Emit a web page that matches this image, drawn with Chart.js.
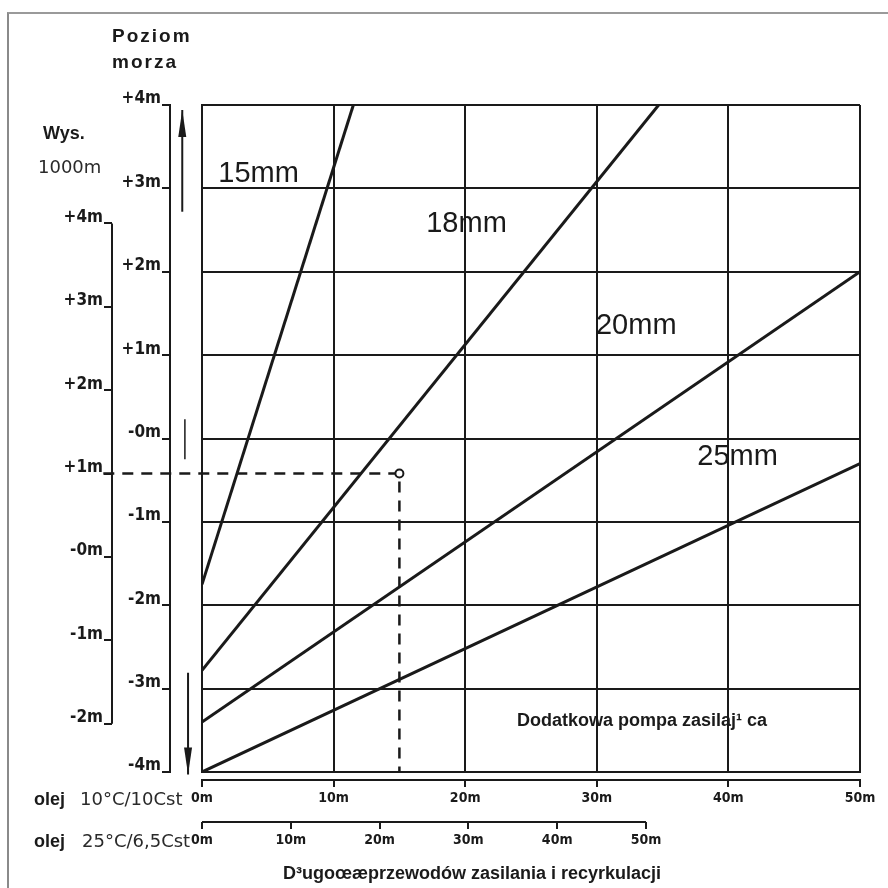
<!DOCTYPE html>
<html>
<head>
<meta charset="utf-8">
<script src="https://cdn.jsdelivr.net/npm/chart.js@4.4.0/dist/chart.umd.min.js"></script>
<style>
html, body { margin: 0; padding: 0; background: #fff; }
#wrap { position: relative; width: 888px; height: 888px; overflow: hidden; }
#c { position: absolute; left: 0; top: 0; }
#frame { position: absolute; left: 7px; top: 12px; width: 900px; height: 900px;
  border-left: 2px solid #8a8a8a; border-top: 2px solid #9a9a9a; }
.t { position: absolute; white-space: nowrap; line-height: 1; color: #1a1a1a; }
.b { font-family: "Liberation Sans", Arial, sans-serif; font-weight: bold; font-size: 18px; }
.n { font-family: "DejaVu Sans", sans-serif; font-size: 18px; color: #2a2a2a; }
</style>
</head>
<body>
<div id="wrap">
  <div id="frame"></div>
  <canvas id="c" width="888" height="888"></canvas>
  <div class="t b" style="left:112px;top:23px;line-height:26px;letter-spacing:2px;font-size:19px">Poziom<br>morza</div>
  <div class="t b" style="left:43px;top:124px">Wys.</div>
  <div class="t n" style="left:38px;top:158px;font-size:18px">1000m</div>
  <div class="t b" style="left:34px;top:790px">olej</div>
  <div class="t n" style="left:80px;top:790px">10°C/10Cst</div>
  <div class="t b" style="left:34px;top:832px">olej</div>
  <div class="t n" style="left:82px;top:832px">25°C/6,5Cst</div>
  <div class="t b" style="left:517px;top:711px">Dodatkowa pompa zasilaj¹ ca</div>
  <div class="t b" style="left:283px;top:864px">D³ugoœæprzewodów zasilania i recyrkulacji</div>
</div>
<script>
// Nomogram: pipe diameter vs. supply/return line length and suction height.

const ink = '#1a1a1a';

// pipe lines: start at 0 m length, end where they leave the grid
const pipeNames  = ['15mm', '18mm', '20mm', '25mm'];
const pipeStartY = [-1.75, -2.78, -3.4, -4.0];
const pipeEndX   = [11.5, 34.7, 50, 50];
const pipeEndY   = [4, 4, 2.0, -0.3];
const labelX     = [4.3, 20.1, 33.0, 40.7];
const labelY     = [3.17, 2.57, 1.35, -0.22];

// main height scale (sea level) and the 1000 m altitude scale
const yMainTicks  = [4, 3, 2, 1, 0, -1, -2, -3, -4];
const yMainLabels = ['+4m', '+3m', '+2m', '+1m', '-0m', '-1m', '-2m', '-3m', '-4m'];
const ySecTicks   = [4, 3, 2, 1, 0, -1, -2];
const ySecLabels  = ['+4m', '+3m', '+2m', '+1m', '-0m', '-1m', '-2m'];
const ySecShift   = 1.42;

// length scales: oil 10°C/10cSt and oil 25°C/6,5cSt
const xTicks      = [0, 10, 20, 30, 40, 50];
const xLabels     = ['0m', '10m', '20m', '30m', '40m', '50m'];
const x2Max       = 74.1;

// worked example (dashed) and the scale arrows
const dashX = [-7.5, 15, 15];
const dashY = [-0.42, -0.42, -4];
const arrowUpX = [-1.5, -1.5];
const arrowUpY = [2.72, 3.94];
const arrowDownX = [-1.06, -1.06];
const arrowDownY = [-2.81, -4.03];
const markX = [-1.3, -1.3];
const markY = [0.23, -0.25];

const pipeSets = pipeNames.map((n, i) => ({
  label: n,
  data: [{ x: 0, y: pipeStartY[i] }, { x: pipeEndX[i], y: pipeEndY[i] }],
  borderColor: ink, borderWidth: 3, pointRadius: 0, showLine: true,
}));

const extraSets = [
  { label: 'dash', data: dashX.map((x, i) => ({ x, y: dashY[i] })),
    borderColor: ink, borderWidth: 2.5, borderDash: [11, 8], showLine: true, clip: false,
    pointRadius: [0, 4, 0], pointBorderWidth: 2, pointBorderColor: ink, pointBackgroundColor: '#fff' },
  { label: 'up', data: arrowUpX.map((x, i) => ({ x, y: arrowUpY[i] })),
    borderColor: ink, borderWidth: 2, showLine: true, clip: false, pointRadius: 0 },
  { label: 'down', data: arrowDownX.map((x, i) => ({ x, y: arrowDownY[i] })),
    borderColor: ink, borderWidth: 2, showLine: true, clip: false, pointRadius: 0 },
  { label: 'mark', data: markX.map((x, i) => ({ x, y: markY[i] })),
    borderColor: ink, borderWidth: 1.5, showLine: true, clip: false, pointRadius: 0 },
];

const tickFont = { family: '"DejaVu Sans Condensed", "DejaVu Sans", sans-serif', size: 17, weight: 'bold' };
const xFont = { family: '"DejaVu Sans Condensed", "DejaVu Sans", sans-serif', size: 14, weight: 'bold' };

function head(ctx, px, py, dir) {
  // narrow filled arrowhead, tip at (px, py), dir -1 = up, 1 = down
  ctx.beginPath();
  ctx.moveTo(px, py);
  ctx.lineTo(px - 4, py - dir * 27);
  ctx.lineTo(px + 4, py - dir * 27);
  ctx.closePath();
  ctx.fill();
}

const decor = {
  id: 'decor',
  afterDraw(chart) {
    const { ctx, scales } = chart;
    const x = scales.x, y = scales.y;
    ctx.save();
    ctx.strokeStyle = ink;
    ctx.fillStyle = ink;
    ctx.lineWidth = 2;
    // partial axis lines for the secondary scales
    const xb = scales.xb;
    ctx.beginPath();
    ctx.moveTo(xb.getPixelForValue(0), xb.top);
    ctx.lineTo(xb.getPixelForValue(50), xb.top);
    ctx.stroke();
    const yb = scales.yb;
    ctx.beginPath();
    ctx.moveTo(yb.right, yb.getPixelForValue(4));
    ctx.lineTo(yb.right, yb.getPixelForValue(-2));
    ctx.stroke();
    // arrow heads
    head(ctx, x.getPixelForValue(arrowUpX[1]), y.getPixelForValue(arrowUpY[1]), -1);
    head(ctx, x.getPixelForValue(arrowDownX[1]), y.getPixelForValue(arrowDownY[1]), 1);
    // pipe diameter labels
    ctx.font = '29px "Liberation Sans", Arial, sans-serif';
    ctx.textAlign = 'center';
    ctx.textBaseline = 'middle';
    pipeNames.forEach((n, i) => {
      ctx.fillText(n, x.getPixelForValue(labelX[i]), y.getPixelForValue(labelY[i]));
    });
    ctx.restore();
  }
};

new Chart(document.getElementById('c'), {
  type: 'scatter',
  data: { datasets: [...pipeSets, ...extraSets] },
  options: {
    responsive: false,
    animation: false,
    layout: { padding: { left: 50, right: 28, top: 105, bottom: 34 } },
    plugins: { legend: { display: false }, tooltip: { enabled: false } },
    scales: {
      x: {
        type: 'linear', position: 'bottom', min: 0, max: 50, weight: 0,
        ticks: { display: false, stepSize: 10 },
        grid: { color: ink, lineWidth: 2, tickLength: 8, tickColor: 'transparent' },
        border: { color: ink, width: 2 },
        afterFit: s => { s.height = 8; },
      },
      xa: {
        type: 'linear', position: 'bottom', min: 0, max: 50, weight: 1,
        afterBuildTicks: s => { s.ticks = xTicks.map(v => ({ value: v })); },
        ticks: { color: ink, font: xFont, padding: 3, maxRotation: 0,
          callback: v => xLabels[xTicks.indexOf(v)] },
        grid: { drawOnChartArea: false, color: ink, lineWidth: 2, tickLength: 7 },
        border: { color: ink, width: 2 },
        afterFit: s => { s.height = 42; },
      },
      xb: {
        type: 'linear', position: 'bottom', min: 0, max: x2Max, weight: 2,
        afterBuildTicks: s => { s.ticks = xTicks.map(v => ({ value: v })); },
        ticks: { color: ink, font: xFont, padding: 3, maxRotation: 0,
          callback: v => xLabels[xTicks.indexOf(v)] },
        grid: { drawOnChartArea: false, color: ink, lineWidth: 2, tickLength: 7 },
        border: { display: false },
        afterFit: s => { s.height = 32; },
      },
      y: {
        type: 'linear', position: 'left', min: -4, max: 4, weight: 0,
        ticks: { display: false, stepSize: 1 },
        grid: { color: ink, lineWidth: 2, tickLength: 32, tickColor: 'transparent' },
        border: { color: ink, width: 2 },
        afterFit: s => { s.width = 32; },
      },
      ya: {
        type: 'linear', position: 'left', min: -4, max: 4, weight: 1,
        afterBuildTicks: s => { s.ticks = yMainTicks.map(v => ({ value: v })); },
        ticks: { color: ink, font: tickFont, padding: 1, labelOffset: -6,
          callback: v => yMainLabels[yMainTicks.indexOf(v)] },
        grid: { drawOnChartArea: false, color: ink, lineWidth: 2, tickLength: 8 },
        border: { color: ink, width: 2 },
        afterFit: s => { s.width = 58; },
      },
      yb: {
        type: 'linear', position: 'left', min: -4 + ySecShift, max: 4 + ySecShift, weight: 2,
        afterBuildTicks: s => { s.ticks = ySecTicks.map(v => ({ value: v })); },
        ticks: { color: ink, font: tickFont, padding: 1, labelOffset: -6,
          callback: v => ySecLabels[ySecTicks.indexOf(v)] },
        grid: { drawOnChartArea: false, color: ink, lineWidth: 2, tickLength: 8 },
        border: { display: false },
        afterFit: s => { s.width = 62; },
      },
    },
  },
  plugins: [decor],
});
</script>
</body>
</html>
